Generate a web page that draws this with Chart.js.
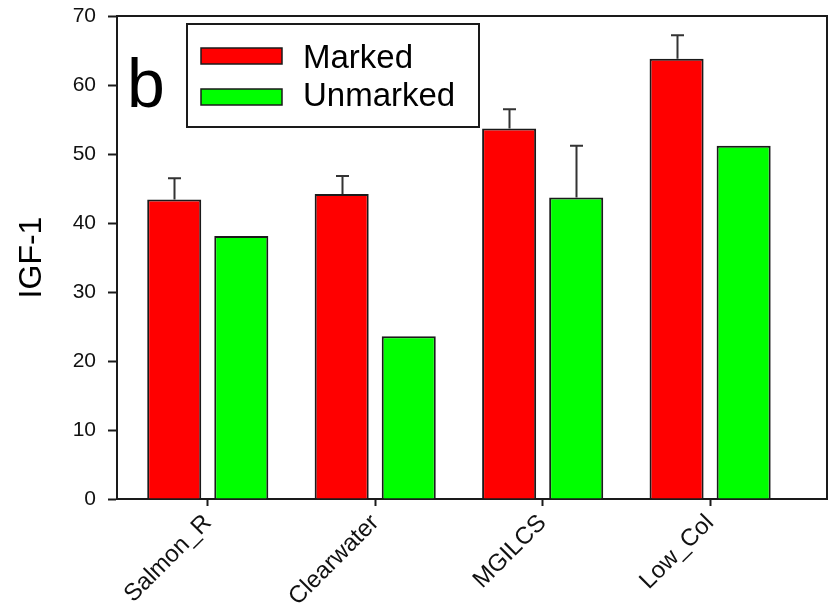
<!DOCTYPE html>
<html>
<head>
<meta charset="utf-8">
<script src="https://cdn.jsdelivr.net/npm/chart.js@4/dist/chart.umd.min.js"></script>
<style>
  html, body { margin: 0; padding: 0; background: #fff; }
  #wrap { width: 831px; height: 610px; position: relative; }
</style>
</head>
<body>
<div id="wrap"><canvas id="c" width="831" height="610"></canvas></div>
<script>
const categories = ['Salmon_R', 'Clearwater', 'MGILCS', 'Low_Col'];
const markedValues = [43.4, 44.2, 53.7, 63.8];
const markedErrors = [3.1, 2.6, 2.8, 3.4];
const unmarkedValues = [38.1, 23.6, 43.7, 51.2];
const unmarkedErrors = [null, null, 7.5, null];
const yTicks = [0, 10, 20, 30, 40, 50, 60, 70];
const seriesNames = ['Marked', 'Unmarked'];
const panelLetter = 'b';
const yTitle = 'IGF-1';

const FONT = 'Arial, "Liberation Sans", sans-serif';
const INK = '#1a1a1a';

const toPoints = (vals) => vals.map((v, i) => ({ x: i, y: v }));

const errorBarPlugin = {
  id: 'errorBars',
  afterDatasetsDraw(chart) {
    const ctx = chart.ctx;
    const ys = chart.scales.y;
    ctx.save();
    ctx.strokeStyle = '#333';
    ctx.lineWidth = 2;
    chart.data.datasets.forEach((ds, di) => {
      const meta = chart.getDatasetMeta(di);
      meta.data.forEach((bar, i) => {
        const e = ds.errors[i];
        if (e == null) return;
        const v = ds.data[i].y;
        const yTop = ys.getPixelForValue(v + e);
        const yBar = ys.getPixelForValue(v);
        const x = Math.round(bar.x) + 0.5;
        ctx.beginPath();
        ctx.moveTo(x, yBar);
        ctx.lineTo(x, yTop);
        ctx.moveTo(x - 6.5, yTop);
        ctx.lineTo(x + 6.5, yTop);
        ctx.stroke();
      });
    });
    ctx.restore();
  }
};

const framePlugin = {
  id: 'frame',
  afterDraw(chart) {
    const { ctx, chartArea: a } = chart;
    ctx.save();
    ctx.strokeStyle = INK;
    ctx.lineWidth = 2;
    ctx.beginPath();
    ctx.moveTo(a.left, a.top);
    ctx.lineTo(a.right, a.top);
    ctx.lineTo(a.right, a.bottom);
    ctx.stroke();

    // panel letter
    ctx.fillStyle = '#000';
    ctx.font = '68px ' + FONT;
    ctx.textBaseline = 'alphabetic';
    ctx.textAlign = 'left';
    ctx.fillText(panelLetter, 127, 107);

    // legend box
    ctx.fillStyle = '#fff';
    ctx.fillRect(187, 24, 292, 103);
    ctx.lineWidth = 2;
    ctx.strokeStyle = INK;
    ctx.strokeRect(187, 24, 292, 103);
    const rows = [{ y: 48, base: 68 }, { y: 89, base: 106 }];
    chart.data.datasets.forEach((ds, i) => {
      const r = rows[i];
      ctx.fillStyle = ds.backgroundColor;
      ctx.fillRect(201, r.y, 81, 16);
      ctx.lineWidth = 1.5;
      ctx.strokeStyle = INK;
      ctx.strokeRect(201, r.y, 81, 16);
      ctx.fillStyle = '#000';
      ctx.font = '33px ' + FONT;
      ctx.fillText(ds.label, 303, r.base);
    });
    ctx.restore();
  }
};

new Chart(document.getElementById('c'), {
  type: 'bar',
  data: {
    datasets: [
      {
        label: seriesNames[0],
        data: toPoints(markedValues),
        errors: markedErrors,
        backgroundColor: '#ff0000',
        borderColor: INK,
        borderWidth: 2,
        categoryPercentage: 0.801,
        barPercentage: 0.806
      },
      {
        label: seriesNames[1],
        data: toPoints(unmarkedValues),
        errors: unmarkedErrors,
        backgroundColor: '#00ff00',
        borderColor: INK,
        borderWidth: 2,
        categoryPercentage: 0.801,
        barPercentage: 0.806
      }
    ]
  },
  options: {
    responsive: false,
    animation: false,
    devicePixelRatio: 1,
    layout: { padding: { left: 0, top: 16, right: 4, bottom: 0 } },
    plugins: {
      legend: { display: false },
      tooltip: { enabled: false }
    },
    scales: {
      x: {
        type: 'linear',
        min: -0.542,
        max: 3.698,
        offset: false,
        afterBuildTicks: (s) => { s.ticks = categories.map((c, i) => ({ value: i })); },
        afterFit: (s) => { s.height = 111; s.paddingLeft = 0; s.paddingRight = 0; },
        grid: { display: true, offset: false, drawOnChartArea: false, drawTicks: true, tickLength: 7, tickWidth: 2, tickColor: INK },
        border: { display: true, color: INK, width: 2 },
        ticks: {
          autoSkip: false,
          minRotation: 45,
          maxRotation: 45,
          padding: 3,
          color: '#111',
          font: { family: FONT, size: 24 },
          callback: (v) => categories[v]
        }
      },
      y: {
        min: 0,
        max: 70,
        afterBuildTicks: (s) => { s.ticks = yTicks.map(v => ({ value: v })); },
        afterFit: (s) => { s.width = 117; s.paddingTop = 0; s.paddingBottom = 0; },
        grid: { display: true, drawOnChartArea: false, drawTicks: true, tickLength: 9, tickWidth: 2, tickColor: INK },
        border: { display: true, color: INK, width: 2 },
        ticks: {
          padding: 12,
          color: '#111',
          font: { family: FONT, size: 21 }
        },
        title: {
          display: true,
          text: yTitle,
          color: '#000',
          font: { family: FONT, size: 32 },
          padding: { top: 13, bottom: 0 }
        }
      }
    }
  },
  plugins: [errorBarPlugin, framePlugin]
});
</script>
</body>
</html>
